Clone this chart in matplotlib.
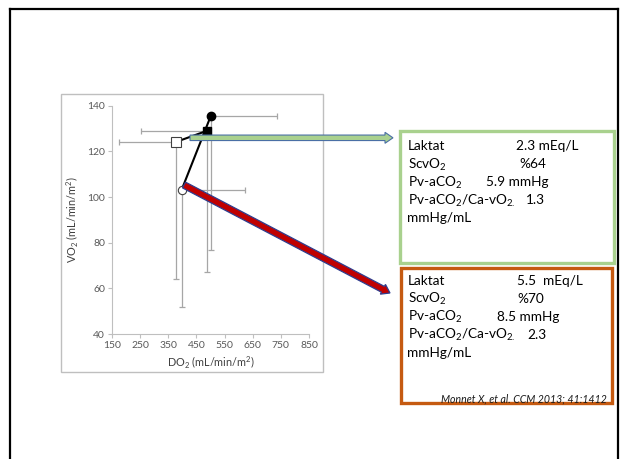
import matplotlib
matplotlib.use("Agg")
import matplotlib.pyplot as plt
import matplotlib.patches as mpatches
from matplotlib.lines import Line2D

plt.rcParams["font.family"] = ["Lato", "DejaVu Sans"]
plt.rcParams["mathtext.fontset"] = "custom"
plt.rcParams["mathtext.rm"] = "Lato"
plt.rcParams["mathtext.it"] = "Lato:italic"
plt.rcParams["mathtext.default"] = "rm"

# DO2 / VO2 points (before -> after)
circle_do2 = [397, 501]
circle_vo2 = [103, 135.5]
circle_do2_sd = [226, 236]     # drawn to the right only
circle_vo2_sd = [51, 58.5]     # drawn downward only

square_do2 = [379, 487.5]
square_vo2 = [124.2, 129]
square_do2_sd = [203, 236]     # drawn to the left only
square_vo2_sd = [60, 62]       # drawn downward only

x_ticks = [150, 250, 350, 450, 550, 650, 750, 850]
y_ticks = [40, 60, 80, 100, 120, 140]

green_rows = [("Laktat", "2.3 mEq/L", 516), ("ScvO$_2$", "%64", 519),
              ("Pv-aCO$_2$", "5.9 mmHg", 486), ("Pv-aCO$_2$/Ca-vO$_{2.}$", "1.3", 526)]
orange_rows = [("Laktat", "5.5  mEq/L", 517), ("ScvO$_2$", "%70", 517),
               ("Pv-aCO$_2$", "8.5 mmHg", 497), ("Pv-aCO$_2$/Ca-vO$_{2.}$", "2.3", 527)]
citation = "Monnet X, et al. CCM 2013; 41:1412"

W, H = 621, 459
fig = plt.figure(figsize=(W / 100, H / 100), dpi=100)

# background layer in pixel coordinates (y down)
bg = fig.add_axes([0, 0, 1, 1], zorder=0)
bg.set_xlim(0, W)
bg.set_ylim(H, 0)
bg.axis("off")
bg.add_patch(mpatches.Rectangle((60.7, 94), 262, 278, fill=False,
                                edgecolor="#bfbfbf", lw=1.0))
for xs, ys in [([10, 10], [9, H]), ([10, 618], [9, 9]), ([618, 618], [9, H])]:
    bg.add_line(Line2D(xs, ys, color="black", lw=1.6))

# chart
left, right = 112 / W, 309 / W
top, bottom = 1 - 105.7 / H, 1 - 334 / H
ax = fig.add_axes([left, bottom, right - left, top - bottom], zorder=1)
ax.patch.set_alpha(0)
ax.set_xlim(150, 850)
ax.set_ylim(40, 140)
ax.set_xticks(x_ticks)
ax.set_yticks(y_ticks)
for s in ["top", "right"]:
    ax.spines[s].set_visible(False)
for s in ["left", "bottom"]:
    ax.spines[s].set_color("#bfbfbf")
    ax.spines[s].set_linewidth(0.8)
ax.tick_params(colors="#bfbfbf", labelcolor="#595959", labelsize=7.5,
               length=3, width=0.8, pad=2)
ax.set_xlabel("DO$_2$ (mL/min/m$^2$)", fontsize=7.8, color="#404040", labelpad=3)
ax.set_ylabel("VO$_2$ (mL/min/m$^2$)", fontsize=7.8, color="#404040", labelpad=5)

err_kw = dict(fmt="none", ecolor="#a6a6a6", elinewidth=0.9, capsize=2.5,
              capthick=0.9, zorder=2)
ax.errorbar(circle_do2, circle_vo2,
            xerr=[[0] * 2, circle_do2_sd], yerr=[circle_vo2_sd, [0] * 2], **err_kw)
ax.errorbar(square_do2, square_vo2,
            xerr=[square_do2_sd, [0] * 2], yerr=[square_vo2_sd, [0] * 2], **err_kw)

ax.plot(circle_do2, circle_vo2, color="black", lw=1.5, zorder=3)
ax.plot(square_do2, square_vo2, color="black", lw=1.5, zorder=3)
ax.plot(circle_do2[0], circle_vo2[0], "o", ms=6, mfc="white", mec="#404040", mew=0.8, zorder=4)
ax.plot(circle_do2[1], circle_vo2[1], "o", ms=6, mfc="black", mec="black", zorder=4)
ax.plot(square_do2[0], square_vo2[0], "s", ms=6.5, mfc="white", mec="#404040", mew=0.8, zorder=4)
ax.plot(square_do2[1], square_vo2[1], "s", ms=6, mfc="black", mec="black", zorder=4)

# overlay: arrows, boxes, text
ov = fig.add_axes([0, 0, 1, 1], zorder=5)
ov.patch.set_alpha(0)
ov.set_xlim(0, W)
ov.set_ylim(H, 0)
ov.axis("off")

ov.add_patch(mpatches.FancyArrow(190, 137.8, 203, 0, width=5.5, head_width=11,
                                 head_length=8, length_includes_head=True,
                                 facecolor="#a9d18e", edgecolor="#4a6fa5", lw=0.8))
ov.add_patch(mpatches.FancyArrow(184, 185, 206, 108, width=6.5, head_width=11,
                                 head_length=8, length_includes_head=True,
                                 facecolor="#c00000", edgecolor="#2f3e8f", lw=0.9))

ov.add_patch(mpatches.Rectangle((399.5, 130.5), 214, 132, fill=False,
                                edgecolor="#a9d18e", lw=2.4))
ov.add_patch(mpatches.Rectangle((400.5, 268), 211.5, 135, fill=False,
                                edgecolor="#c55a11", lw=2.4))

def box_text(rows, y0):
    for i, (name, val, xv) in enumerate(rows):
        y = y0 + i * 18
        ov.text(407.5, y, name, fontsize=9.8, va="baseline", ha="left")
        ov.text(xv, y, val, fontsize=9.8, va="baseline", ha="left")
    ov.text(407.5, y0 + 4 * 18, "mmHg/mL", fontsize=9.8, va="baseline", ha="left")

box_text(green_rows, 150.5)
box_text(orange_rows, 285)
ov.text(607, 399, citation, fontsize=7.6, style="italic", ha="right",
        va="center", color="#1a1a1a")

fig.savefig("out.png", dpi=100)
